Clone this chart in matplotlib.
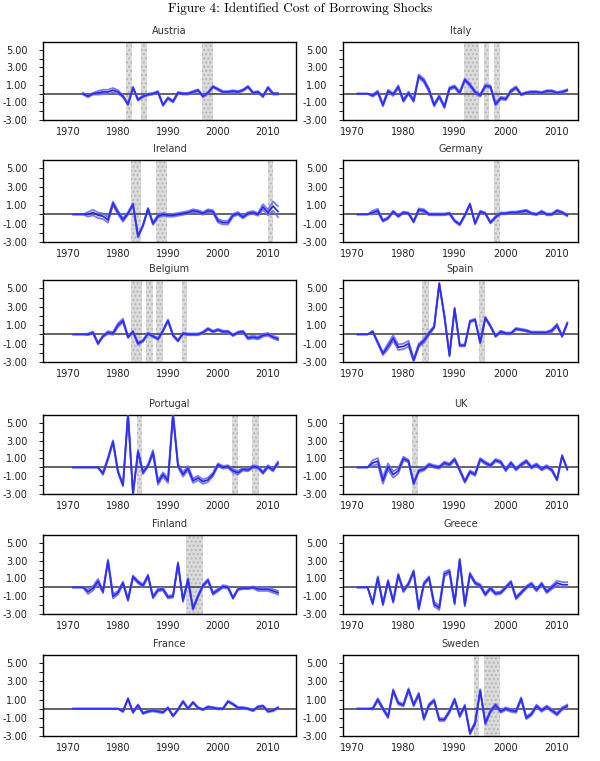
import numpy as np
import matplotlib
matplotlib.use("Agg")
import matplotlib.pyplot as plt
from matplotlib.ticker import FixedLocator, MultipleLocator

nan = np.nan
years = list(range(1971, 2013))

countries = ["Austria", "Italy", "Ireland", "Germany", "Belgium", "Spain",
             "Portugal", "UK", "Finland", "Greece", "France", "Sweden"]

# median shocks, 1971-2012
austria = [nan, nan, 0.0, -0.3, 0.0, 0.1, 0.2, 0.2, 0.4, 0.2,
           -0.3, -1.2, 0.7, -0.7, -0.3, -0.1, 0.0, 0.2, -1.3, -0.5,
           -0.9, 0.1, 0.0, 0.0, 0.2, 0.4, -0.3, 0.1, 0.8, 0.5,
           0.2, 0.2, 0.3, 0.2, 0.4, 0.8, 0.1, 0.2, -0.3, 0.7,
           0.0, 0.0]
italy = [0.0, 0.0, 0.0, -0.2, 0.2, -1.3, 0.3, -0.1, 0.8, -0.8,
         0.1, -0.8, 2.0, 1.5, 0.4, -1.3, -0.3, -1.5, 0.6, 0.8,
         0.1, 1.6, 1.0, 0.2, -0.2, 0.9, 0.8, -1.2, -0.5, -0.6,
         0.3, 0.7, -0.1, 0.1, 0.2, 0.2, 0.1, 0.3, 0.3, 0.1,
         0.2, 0.4]
ireland = [0.0, 0.0, 0.0, 0.0, 0.2, -0.1, -0.2, -0.6, 1.2, 0.2,
           -0.6, 0.1, 1.1, -2.4, -1.2, 0.6, -1.0, -0.2, 0.0, -0.1,
           -0.1, 0.0, 0.1, 0.2, 0.4, 0.3, 0.1, 0.4, 0.3, -0.7,
           -0.9, -0.9, -0.1, 0.1, -0.3, 0.1, 0.2, 0.0, 0.8, 0.2,
           0.9, 0.3]
germany = [0.0, 0.0, 0.0, 0.2, 0.4, -0.7, -0.4, 0.3, -0.2, 0.2,
           0.1, -0.8, 0.5, 0.4, 0.0, 0.0, 0.0, 0.0, 0.1, -0.7,
           -1.1, -0.1, 1.1, -1.0, 0.3, 0.1, -0.9, -0.3, 0.1, 0.1,
           0.2, 0.2, 0.3, 0.4, 0.1, 0.0, 0.3, 0.0, 0.0, 0.4,
           0.2, -0.1]
belgium = [0.0, 0.0, 0.0, 0.0, 0.2, -1.0, -0.2, 0.2, 0.1, 1.0,
           1.5, -0.3, 0.3, -1.0, -0.7, 0.1, -0.2, -0.5, 0.4, 1.5,
           -0.1, -0.7, 0.1, 0.0, 0.0, 0.0, 0.2, 0.6, 0.3, 0.5,
           0.3, 0.3, -0.1, 0.2, 0.3, -0.4, -0.3, -0.4, -0.1, 0.0,
           -0.3, -0.5]
spain = [0.0, 0.0, 0.0, 0.3, -0.9, -2.1, -1.3, -0.4, -1.4, -1.3,
         -1.0, -2.8, -1.2, -0.7, 0.1, 0.8, 5.5, 2.0, -2.3, 2.8,
         -1.2, -1.2, 1.4, 1.6, -0.9, 1.8, 0.9, -0.2, 0.3, 0.1,
         0.1, 0.6, 0.5, 0.4, 0.2, 0.2, 0.2, 0.2, 0.4, 1.0,
         -0.2, 1.2]
portugal = [0.0, 0.0, 0.0, 0.0, 0.0, 0.0, -0.7, 1.0, 2.9, -0.5,
            -2.0, 6.0, -3.0, 1.8, -0.6, 0.2, 1.7, -1.7, -0.8, -1.5,
            6.0, 0.2, -0.8, -0.1, -1.5, -1.2, -1.6, -1.4, -0.8, 0.3,
            0.0, 0.1, -0.4, -0.6, -0.2, -0.3, 0.1, 0.0, -0.6, 0.1,
            -0.3, 0.5]
uk = [0.0, 0.0, 0.0, 0.5, 0.7, -1.5, 0.1, -0.8, -0.4, 1.0,
      0.7, -1.8, -0.4, -0.2, 0.3, 0.1, 0.0, 0.5, 0.3, 0.9,
      -0.3, -1.6, -0.5, -0.8, 0.9, 0.5, 0.2, 0.8, 0.6, -0.3,
      0.5, -0.2, 0.3, 0.7, 0.0, 0.3, -0.2, 0.1, -0.3, -1.4,
      1.3, -0.2]
finland = [0.0, 0.0, 0.0, -0.5, -0.1, 0.7, -0.5, 3.0, -1.0, -0.6,
           0.5, -1.4, 1.2, 0.6, 0.2, 1.3, -1.1, -0.3, -0.2, -1.1,
           -1.0, 2.7, -1.5, 0.9, -2.4, -1.0, 0.2, 0.8, -0.7, -0.3,
           0.1, 0.0, -1.2, -0.2, -0.1, -0.1, 0.0, -0.2, -0.2, -0.2,
           -0.4, -0.6]
greece = [0.0, 0.0, 0.0, -1.8, 1.1, -1.9, 0.7, -1.6, 1.4, -0.4,
          0.4, 1.8, -2.4, 0.4, 1.1, -1.9, -2.3, 1.5, 1.8, -1.8,
          3.1, -2.0, 1.5, 0.5, 0.2, -0.8, -0.1, -0.7, -0.6, 0.0,
          0.6, -1.2, -0.6, 0.0, 0.4, -0.3, 0.4, -0.5, 0.0, 0.5,
          0.3, 0.3]
france = [0.0, 0.0, 0.0, 0.0, 0.0, 0.0, 0.0, 0.0, 0.0, 0.0,
          -0.3, 1.1, -0.4, 0.4, -0.5, -0.3, -0.2, -0.3, -0.4, 0.1,
          -0.8, -0.1, 0.8, 0.0, 0.7, 0.1, -0.1, 0.2, 0.1, 0.0,
          0.0, 0.8, 0.5, 0.1, 0.1, 0.0, -0.2, 0.2, 0.3, -0.3,
          -0.2, 0.1]
sweden = [0.0, 0.0, 0.0, 0.0, 1.0, 0.0, -0.9, 2.0, 0.6, 0.4,
          2.1, 0.4, 1.6, -1.1, 0.4, 0.9, -1.2, -1.2, -0.3, 1.0,
          -0.8, 0.3, -2.7, -1.6, 2.0, -1.6, -0.3, 0.4, -0.3, 0.0,
          -0.2, -0.3, 1.1, -1.0, -0.6, 0.3, -0.2, 0.2, -0.2, -0.6,
          0.0, 0.3]

# half-width of the error bands, 1971-2012
austria_sd = [0, 0, 0.1, 0.1, 0.1, 0.2, 0.25, 0.25, 0.25, 0.2,
              0.1, 0.1, 0.1, 0.1, 0.1, 0.1, 0.1, 0.1, 0.1, 0.1,
              0.1, 0.1, 0.1, 0.1, 0.1, 0.1, 0.1, 0.1, 0.1, 0.1,
              0.1, 0.1, 0.1, 0.1, 0.1, 0.1, 0.1, 0.1, 0.1, 0.1,
              0.1, 0.1]
italy_sd = [0, 0, 0, 0.15, 0.15, 0.15, 0.15, 0.15, 0.15, 0.15,
            0.15, 0.15, 0.2, 0.2, 0.2, 0.15, 0.15, 0.15, 0.15, 0.15,
            0.15, 0.15, 0.15, 0.15, 0.15, 0.15, 0.15, 0.15, 0.15, 0.15,
            0.15, 0.15, 0.1, 0.1, 0.1, 0.1, 0.1, 0.1, 0.1, 0.1,
            0.1, 0.1]
ireland_sd = [0, 0, 0, 0.25, 0.3, 0.3, 0.3, 0.3, 0.2, 0.2,
              0.2, 0.15, 0.1, 0.1, 0.1, 0.1, 0.15, 0.15, 0.15, 0.15,
              0.15, 0.15, 0.15, 0.15, 0.15, 0.15, 0.15, 0.15, 0.15, 0.2,
              0.2, 0.2, 0.15, 0.15, 0.15, 0.15, 0.15, 0.15, 0.3, 0.3,
              0.5, 0.6]
germany_sd = [0, 0, 0, 0.2, 0.2, 0.1, 0.1, 0.1, 0.1, 0.1,
              0.1, 0.1, 0.15, 0.15, 0.1, 0.1, 0.1, 0.1, 0.1, 0.1,
              0.1, 0.1, 0.1, 0.1, 0.1, 0.1, 0.1, 0.1, 0.1, 0.1,
              0.1, 0.1, 0.1, 0.1, 0.1, 0.1, 0.1, 0.1, 0.1, 0.1,
              0.1, 0.1]
belgium_sd = [0, 0, 0, 0.1, 0.1, 0.1, 0.1, 0.15, 0.15, 0.2,
              0.2, 0.1, 0.1, 0.15, 0.1, 0.1, 0.1, 0.1, 0.1, 0.1,
              0.1, 0.1, 0.1, 0.1, 0.1, 0.1, 0.1, 0.1, 0.1, 0.1,
              0.1, 0.1, 0.1, 0.1, 0.1, 0.15, 0.15, 0.15, 0.15, 0.15,
              0.15, 0.15]
spain_sd = [0, 0, 0, 0.1, 0.1, 0.15, 0.3, 0.3, 0.3, 0.3,
            0.3, 0.15, 0.2, 0.2, 0.2, 0.1, 0.1, 0.1, 0.1, 0.1,
            0.1, 0.1, 0.1, 0.1, 0.1, 0.1, 0.1, 0.1, 0.1, 0.1,
            0.1, 0.1, 0.1, 0.1, 0.1, 0.1, 0.1, 0.1, 0.15, 0.15,
            0.1, 0.1]
portugal_sd = [0, 0, 0, 0, 0, 0, 0.15, 0.15, 0.15, 0.15,
               0.15, 0.15, 0.15, 0.15, 0.15, 0.15, 0.25, 0.25, 0.25, 0.25,
               0.2, 0.2, 0.25, 0.25, 0.25, 0.25, 0.25, 0.25, 0.2, 0.15,
               0.15, 0.15, 0.2, 0.2, 0.15, 0.15, 0.15, 0.15, 0.15, 0.15,
               0.15, 0.15]
uk_sd = [0, 0, 0, 0.3, 0.35, 0.35, 0.35, 0.35, 0.3, 0.2,
         0.15, 0.15, 0.15, 0.15, 0.15, 0.15, 0.15, 0.15, 0.15, 0.15,
         0.15, 0.15, 0.15, 0.15, 0.15, 0.15, 0.15, 0.15, 0.15, 0.15,
         0.15, 0.15, 0.15, 0.15, 0.15, 0.15, 0.15, 0.15, 0.15, 0.1,
         0.1, 0.1]
finland_sd = [0, 0, 0, 0.25, 0.25, 0.25, 0.15, 0.15, 0.25, 0.2,
              0.15, 0.15, 0.15, 0.15, 0.15, 0.15, 0.15, 0.15, 0.15, 0.15,
              0.15, 0.15, 0.15, 0.15, 0.15, 0.15, 0.15, 0.15, 0.15, 0.15,
              0.15, 0.15, 0.1, 0.1, 0.1, 0.1, 0.1, 0.2, 0.2, 0.2,
              0.2, 0.2]
greece_sd = [0, 0, 0, 0.15, 0.15, 0.15, 0.15, 0.15, 0.15, 0.15,
             0.15, 0.15, 0.15, 0.15, 0.15, 0.25, 0.25, 0.25, 0.2, 0.15,
             0.15, 0.15, 0.15, 0.15, 0.15, 0.15, 0.15, 0.15, 0.15, 0.15,
             0.15, 0.15, 0.15, 0.15, 0.15, 0.15, 0.15, 0.15, 0.2, 0.25,
             0.3, 0.3]
france_sd = [0, 0, 0, 0, 0, 0, 0, 0, 0, 0,
             0.08, 0.08, 0.08, 0.08, 0.08, 0.1, 0.1, 0.1, 0.1, 0.08,
             0.08, 0.08, 0.08, 0.08, 0.08, 0.08, 0.08, 0.08, 0.08, 0.08,
             0.08, 0.08, 0.08, 0.08, 0.08, 0.08, 0.08, 0.08, 0.08, 0.08,
             0.08, 0.08]
sweden_sd = [0, 0, 0, 0.1, 0.15, 0.15, 0.15, 0.15, 0.15, 0.15,
             0.15, 0.15, 0.15, 0.15, 0.15, 0.15, 0.15, 0.15, 0.15, 0.15,
             0.15, 0.15, 0.15, 0.15, 0.15, 0.15, 0.15, 0.15, 0.15, 0.15,
             0.15, 0.15, 0.15, 0.15, 0.15, 0.15, 0.15, 0.15, 0.15, 0.15,
             0.15, 0.15]

series = [austria, italy, ireland, germany, belgium, spain,
          portugal, uk, finland, greece, france, sweden]
spreads = [austria_sd, italy_sd, ireland_sd, germany_sd, belgium_sd, spain_sd,
           portugal_sd, uk_sd, finland_sd, greece_sd, france_sd, sweden_sd]

# shaded episodes (start, end) in years
shaded = [
    [(1981.5, 1982.8), (1984.5, 1985.8), (1996.8, 1999.0)],
    [(1991.8, 1994.8), (1995.7, 1996.7), (1997.7, 1998.9)],
    [(1982.6, 1984.6), (1987.6, 1989.8), (2010.0, 2011.0)],
    [(1997.7, 1998.9)],
    [(1982.6, 1984.7), (1985.6, 1987.0), (1987.6, 1989.0), (1992.8, 1993.8)],
    [(1983.7, 1984.9), (1994.8, 1995.9)],
    [(1983.8, 1984.8), (2002.8, 2004.0), (2006.8, 2008.2)],
    [(1981.7, 1982.9)],
    [(1993.6, 1997.0)],
    [],
    [],
    [(1993.8, 1994.8), (1995.7, 1998.9)],
]

W, H = 600, 761
fig = plt.figure(figsize=(W / 100, H / 100), dpi=100)
fig.text(0.5, 1 - 9 / H, "Figure 4: Identified Cost of Borrowing Shocks",
         ha="center", va="center", fontsize=9.5, family="cmr10")

rows_px = [(42, 120), (160, 242), (280, 362), (415, 494), (535, 614), (655, 736)]
cols_px = [(43, 296), (343, 578)]
xlims = [(1965.0, 2015.6), (1968.2, 2014.1)]

yrs = np.array(years, dtype=float)
for i, name in enumerate(countries):
    r, c = divmod(i, 2)
    top, bot = rows_px[r]
    x0, x1 = cols_px[c]
    ax = fig.add_axes([x0 / W, 1 - bot / H, (x1 - x0) / W, (bot - top) / H])
    med = np.array(series[i], dtype=float)
    sd = np.array(spreads[i], dtype=float)
    for (a, b) in shaded[i]:
        ax.axvspan(a, b, facecolor="#dcdcdc", edgecolor="#b5b5b5",
                   hatch="....", lw=0, zorder=0)
    ax.axhline(0, color="#3a3a3a", lw=1.1, zorder=1)
    ax.plot(yrs, med, color="#444444", lw=0.8, zorder=2)
    ax.plot(yrs, med + sd, color="#6b6bff", lw=1.3, alpha=0.9, zorder=3)
    ax.plot(yrs, med - sd, color="#6b6bff", lw=1.3, alpha=0.9, zorder=3)
    ax.plot(yrs, med, color="#1c1cf0", lw=1.3, alpha=0.75, zorder=4)
    ax.set_xlim(*xlims[c])
    ax.set_ylim(-3, 5.9)
    ax.yaxis.set_major_locator(FixedLocator([-3, -1, 1, 3, 5]))
    ax.yaxis.set_minor_locator(MultipleLocator(1))
    ax.set_yticklabels(["%.2f" % v for v in [-3, -1, 1, 3, 5]])
    ax.set_xticks([1970, 1980, 1990, 2000, 2010])
    ax.tick_params(axis="both", which="both", labelsize=7, length=3,
                   width=0.7, colors="#222222", pad=2)
    ax.tick_params(axis="y", which="major", pad=8)
    ax.tick_params(axis="x", length=0, pad=5)
    for s in ["top", "right"]:
        ax.spines[s].set_linestyle((0, (1, 1)))
        ax.spines[s].set_linewidth(1.0)
    for s in ["left", "bottom"]:
        ax.spines[s].set_linewidth(1.0)
    ax.set_title(name, fontsize=7, color="#333333", pad=6)

fig.savefig("out.png", dpi=100)
